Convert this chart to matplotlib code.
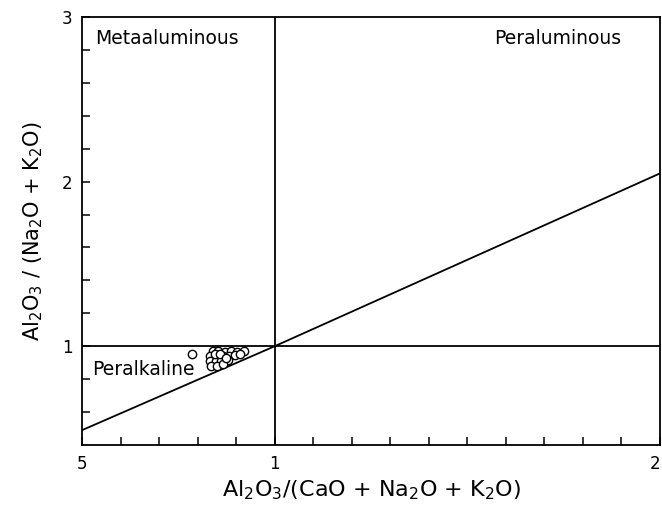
import matplotlib.pyplot as plt
import numpy as np

# A/CNK vs A/NK (Shand index)
acnk = [0.786,
        0.839, 0.854, 0.870, 0.886, 0.902, 0.920,
        0.833, 0.849, 0.865, 0.881, 0.897,
        0.831, 0.847, 0.862, 0.878,
        0.836, 0.851, 0.866,
        0.845, 0.858, 0.875, 0.910]
ank = [0.953,
       0.969, 0.969, 0.966, 0.969, 0.966, 0.972,
       0.939, 0.942, 0.939, 0.942, 0.945,
       0.908, 0.911, 0.911, 0.914,
       0.878, 0.881, 0.890,
       0.955, 0.955, 0.928, 0.950]

# boundary lines
div_x = [0.5, 1.0, 2.0]
div_y = [0.49, 1.0, 2.05]

xticks = [0.5, 1.0, 2.0]
xticklabels = ["5", "1", "2"]
yticks = [1, 2, 3]
yticklabels = ["1", "2", "3"]

fig = plt.figure(figsize=(6.62, 5.07), dpi=100)
ax = fig.add_axes([82/662, 1-445/507, 578/662, 428/507])

ax.set_xlim(0.5, 2.0)
ax.set_ylim(0.4, 3.0)

ax.axvline(1.0, color="black", lw=1.3)
ax.axhline(1.0, color="black", lw=1.3)
ax.plot(div_x, div_y, color="black", lw=1.3)

ax.plot(acnk, ank, ls="none", marker="o", ms=6, mfc="white", mec="black", mew=1.0)

ax.text(0.534, 2.87, "Metaaluminous", fontsize=13.5, va="center", ha="left")
ax.text(1.90, 2.87, "Peraluminous", fontsize=13.5, va="center", ha="right")
ax.text(0.526, 0.86, "Peralkaline", fontsize=13.5, va="center", ha="left")

ax.set_xticks(xticks)
ax.set_xticklabels(xticklabels)
ax.set_xticks(np.arange(0.6, 1.95, 0.1), minor=True)
ax.set_yticks(yticks)
ax.set_yticklabels(yticklabels)
ax.set_yticks([0.6, 0.8, 1.2, 1.4, 1.6, 1.8, 2.2, 2.4, 2.6, 2.8], minor=True)

ax.tick_params(which="both", direction="in", length=6, width=1.1, labelsize=12, pad=7)
ax.get_xticklabels()[-1].set_horizontalalignment("right")

for s in ax.spines.values():
    s.set_linewidth(1.3)

ax.set_xlabel(r"Al$_2$O$_3$/(CaO + Na$_2$O + K$_2$O)", fontsize=16, labelpad=4)
ax.set_ylabel(r"Al$_2$O$_3$ / (Na$_2$O + K$_2$O)", fontsize=15, labelpad=12)

fig.savefig("out.png", dpi=100)
